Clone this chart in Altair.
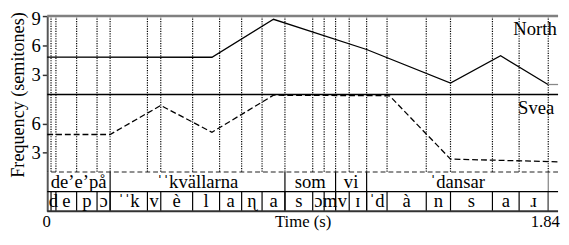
import altair as alt
import pandas as pd

FONT = "Liberation Serif"
X_MAX = 1.876  # right edge of drawing area (s); time axis ends at 1.84 s

# ---------------- data ----------------
north_t = [0.0, 0.605, 0.831, 1.173, 1.481, 1.665, 1.839]
north_st = [4.82, 4.80, 8.67, 5.59, 2.16, 4.95, 2.02]
north_ext_t = [1.839, 1.876]
north_ext_st = [2.02, 2.02]

svea_t = [0.0, 0.231, 0.417, 0.605, 0.831, 1.257, 1.481, 1.876]
svea_st = [4.87, 4.87, 7.87, 5.10, 8.93, 8.87, 2.33, 2.05]

phone_bounds = [0.0, 0.014, 0.032, 0.108, 0.183, 0.231, 0.368, 0.417, 0.534,
                0.633, 0.714, 0.789, 0.873, 0.975, 1.017, 1.059, 1.109, 1.173,
                1.248, 1.392, 1.481, 1.635, 1.733, 1.84]
phone_labels = ["", "d", "e", "p", "ɔ", "ˈˈk", "v", "è", "l", "a", "ɳ", "a",
                "s", "ɔ", "m", "v", "ɪ", "ˈd", "à", "n", "s", "a", "ɹ"]

word_bounds = [0.0, 0.231, 0.873, 1.059, 1.173, 1.84]
word_labels = ["de’e’på", "ˈˈkvällarna", "som", "vi", "ˈdansar"]

x_tick_values = [0, 1.84]
north_ticks = [3, 6, 9]
svea_ticks = [3, 6]

# ---------------- tables ----------------
north_df = pd.DataFrame({"t": north_t, "st": north_st})
north_ext_df = pd.DataFrame({"t": north_ext_t, "st": north_ext_st})
svea_df = pd.DataFrame({"t": svea_t, "st": svea_st})
marks_df = pd.DataFrame({"t": phone_bounds[1:]})
one = pd.DataFrame({"k": [0]})

phones_df = pd.DataFrame({"start": phone_bounds[:-1], "end": phone_bounds[1:], "label": phone_labels})
phones_df["mid"] = (phones_df["start"] + phones_df["end"]) / 2
words_df = pd.DataFrame({"start": word_bounds[:-1], "end": word_bounds[1:], "label": word_labels})
words_df["mid"] = (words_df["start"] + words_df["end"]) / 2

bl = []
for t in phone_bounds[1:]:
    bl.append({"t": t, "y0": 0, "y1": 1, "c": "k"})
for t in word_bounds[1:]:
    bl.append({"t": t, "y0": 0, "y1": 2, "c": "g" if t >= 1.84 else "k"})
bounds_df = pd.DataFrame(bl)

# ---------------- scales / axes ----------------
W = 521
xs = alt.Scale(domain=[0, X_MAX], nice=False, zero=False)
ys = alt.Scale(domain=[1, 9], nice=False, zero=False)
tys = alt.Scale(domain=[0, 2], nice=False, zero=False)

common_y = dict(labelFont=FONT, labelFontSize=19, labelColor="black", labelPadding=2,
                labelBaseline="middle", tickSize=5, tickColor="#333", tickWidth=1.5,
                domainColor="#555", domainWidth=2, grid=False, labelFlush=False)

north_axis = alt.Axis(values=north_ticks, title=None,
                      labelOffset={"condition": {"test": "datum.value == 9", "value": 3}, "value": 0},
                      **common_y)
svea_axis = alt.Axis(values=svea_ticks, title="Frequency (semitones)", titleFont=FONT,
                     titleFontSize=18.5, titleFontWeight="normal", titleColor="black",
                     titleAngle=270, titleX=-30, titleY=0, titleAlign="center",
                     titleBaseline="middle", **common_y)
tier_yaxis = alt.Axis(values=[], title=None, labels=False, ticks=False,
                      domainColor="#555", domainWidth=2, grid=False)
tier_xaxis = alt.Axis(values=x_tick_values,
                      labelExpr="datum.value == 0 ? '0' : format(datum.value, '.2f')",
                      title="Time (s)", titleFont=FONT,
                      titleFontSize=17, titleFontWeight="normal", titleColor="black",
                      titleY=11, titleBaseline="middle", labelFont=FONT, labelFontSize=17,
                      labelColor="black", labelBaseline="middle", labelPadding=11,
                      labelAlign="center", labelFlush=False,
                      labelOffset={"condition": {"test": "datum.value > 1", "value": -3.5}, "value": -1},
                      ticks=False, tickSize=0, domain=False, grid=False)


def xf(field):
    return alt.X(f"{field}:Q", scale=xs, axis=None)


def xd(v):
    return alt.XDatum(v, scale=xs, axis=None)


DOT = dict(color="black", strokeWidth=1.2, strokeDash=[1.2, 1.3])

# ---------------- North panel ----------------
n_dots = alt.Chart(marks_df).mark_rule(**DOT).encode(x=xf("t"))
n_top = alt.Chart(one).mark_rule(color="#808080", strokeWidth=2.5).encode(
    y=alt.YDatum(9, scale=ys, axis=north_axis))
n_line = alt.Chart(north_df).mark_line(color="black", strokeWidth=1.3).encode(
    x=xf("t"), y=alt.Y("st:Q", scale=ys, axis=north_axis))
n_ext = alt.Chart(north_ext_df).mark_line(color="#888", strokeWidth=1.3).encode(
    x=xf("t"), y=alt.Y("st:Q", scale=ys, axis=north_axis))
n_text = alt.Chart(one).mark_text(text="North", align="right", baseline="middle", font=FONT,
                                  fontSize=19, color="black").encode(
    x=xd(1.871), y=alt.YDatum(7.67, scale=ys, axis=north_axis))
north = alt.layer(n_dots, n_top, n_line, n_ext, n_text).properties(width=W, height=80)

# ---------------- Svea panel ----------------
s_dots = alt.Chart(marks_df).mark_rule(**DOT).encode(x=xf("t"))
s_top = alt.Chart(one).mark_rule(color="black", strokeWidth=1.5).encode(
    y=alt.YDatum(9, scale=ys, axis=svea_axis))
s_line = alt.Chart(svea_df).mark_line(color="black", strokeWidth=1.3, strokeDash=[6, 3]).encode(
    x=xf("t"), y=alt.Y("st:Q", scale=ys, axis=svea_axis))
s_text = alt.Chart(one).mark_text(text="Svea", align="right", baseline="middle", font=FONT,
                                  fontSize=19, color="black").encode(
    x=xd(1.862), y=alt.YDatum(7.6, scale=ys, axis=svea_axis))
svea = alt.layer(s_dots, s_top, s_line, s_text).properties(width=W, height=79)

# ---------------- tiers ----------------
tx = alt.X("mid:Q", scale=xs, axis=tier_xaxis)
t_bounds = alt.Chart(bounds_df).mark_rule(strokeWidth=1.2).encode(
    x=alt.X("t:Q", scale=xs, axis=tier_xaxis),
    y=alt.Y("y0:Q", scale=tys, axis=tier_yaxis), y2="y1:Q",
    color=alt.Color("c:N", scale=alt.Scale(domain=["k", "g"], range=["black", "#808080"]), legend=None))
t_top = alt.Chart(one).mark_rule(color="#222", strokeWidth=1.2, strokeDash=[5, 3]).encode(
    y=alt.YDatum(2, scale=tys, axis=tier_yaxis))
t_mid = alt.Chart(one).mark_rule(color="black", strokeWidth=1.2).encode(
    y=alt.YDatum(1, scale=tys, axis=tier_yaxis))
t_bot = alt.Chart(one).mark_rule(color="#333", strokeWidth=2).encode(
    y=alt.YDatum(0, scale=tys, axis=tier_yaxis))
t_words = alt.Chart(words_df).mark_text(baseline="middle", font=FONT, fontSize=19, color="black").encode(
    x=tx, y=alt.YDatum(1.5, scale=tys, axis=tier_yaxis), text="label:N")
t_phones = alt.Chart(phones_df).mark_text(baseline="middle", font=FONT, fontSize=19, color="black").encode(
    x=tx, y=alt.YDatum(0.5, scale=tys, axis=tier_yaxis), text="label:N")
tiers = alt.layer(t_bounds, t_top, t_mid, t_bot, t_words, t_phones).properties(width=W, height=40)

chart = alt.vconcat(north, svea, tiers, spacing=0, bounds="flush").properties(
    padding=0).configure_view(stroke=None)

chart.save("out.html", embed_options={"renderer": "svg", "actions": False})
